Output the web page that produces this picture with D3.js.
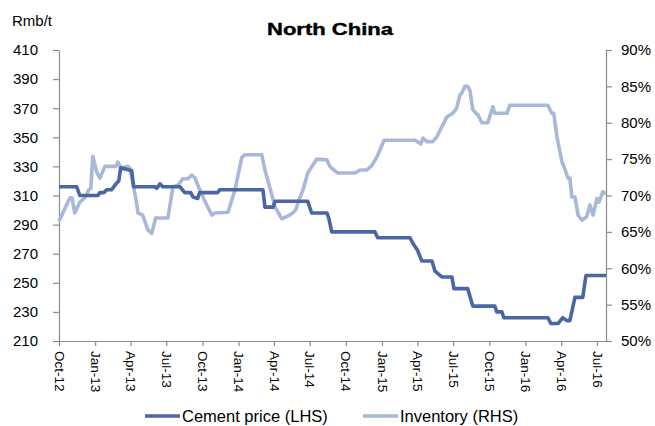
<!DOCTYPE html>
<html>
<head>
<meta charset="utf-8">
<script src="https://cdn.jsdelivr.net/npm/d3@7"></script>
<style>
  html, body { margin: 0; padding: 0; background: #fff; }
  svg { display: block; font-family: "Liberation Sans", Arial, Helvetica, sans-serif; }
</style>
</head>
<body>
<svg id="chart" width="655" height="426"></svg>
<script>
// Axis tick labels
const xTickLabels = ["Oct-12","Jan-13","Apr-13","Jul-13","Oct-13","Jan-14","Apr-14","Jul-14",
                     "Oct-14","Jan-15","Apr-15","Jul-15","Oct-15","Jan-16","Apr-16","Jul-16"];
const leftTicks  = [210, 230, 250, 270, 290, 310, 330, 350, 370, 390, 410];
const rightTicks = [50, 55, 60, 65, 70, 75, 80, 85, 90];

// Cement price, Rmb/t (left axis)
const cementDates = ["2012-10-01","2012-11-15","2012-11-23","2013-01-08","2013-01-13","2013-01-23",
  "2013-01-31","2013-02-12","2013-02-23","2013-03-02","2013-03-07","2013-04-04","2013-04-09",
  "2013-06-02","2013-06-07","2013-06-15","2013-06-22","2013-08-05","2013-08-17","2013-09-01",
  "2013-09-07","2013-09-19","2013-09-24","2013-11-09","2013-11-14","2014-03-04","2014-03-09",
  "2014-03-30","2014-04-04","2014-06-26","2014-07-06","2014-08-14","2014-08-19","2014-08-26",
  "2014-12-14","2014-12-21","2015-03-13","2015-03-21","2015-04-02","2015-04-12","2015-05-08",
  "2015-05-16","2015-06-02","2015-06-28","2015-07-03","2015-08-07","2015-08-20","2015-10-15",
  "2015-10-20","2015-11-02","2015-11-07","2016-02-27","2016-03-06","2016-03-24","2016-04-05",
  "2016-04-15","2016-04-23","2016-05-06","2016-05-26","2016-06-03","2016-07-24"];
const cementValues = [316,316,310,310,312,312,
  314,314,318,320,329,327,316,
  316,315,318,316,316,312,312,
  309,308,312,312,314,314,302,
  302,306,306,298,298,294,285,
  285,281,281,277,272,265,265,
  258,254,254,246,246,234,234,
  230,230,226,226,222,222,226,
  224,224,240,240,255,255];

// Inventory ratio, % (right axis)
const inventoryDates = ["2012-10-01","2012-10-29","2012-11-03","2012-11-10","2012-11-23","2012-12-06",
  "2012-12-16","2012-12-21","2012-12-26","2013-01-05","2013-01-13","2013-01-26","2013-02-23",
  "2013-02-28","2013-03-07","2013-03-25","2013-03-30","2013-04-07","2013-04-15","2013-04-20",
  "2013-05-02","2013-05-15","2013-05-25","2013-06-04","2013-07-05","2013-07-18","2013-07-31",
  "2013-08-12","2013-08-25","2013-09-04","2013-09-12","2013-09-24","2013-10-12","2013-10-25",
  "2013-11-02","2013-12-05","2013-12-23","2014-01-09","2014-01-17","2014-03-01","2014-03-09",
  "2014-03-22","2014-03-30","2014-04-04","2014-04-21","2014-05-11","2014-05-19","2014-05-27",
  "2014-06-01","2014-06-14","2014-06-26","2014-07-09","2014-07-19","2014-08-14","2014-08-21",
  "2014-09-03","2014-09-11","2014-10-24","2014-11-06","2014-11-23","2014-12-06","2014-12-19",
  "2014-12-27","2015-01-06","2015-03-26","2015-04-10","2015-04-15","2015-04-25","2015-05-10",
  "2015-05-21","2015-05-31","2015-06-15","2015-06-30","2015-07-10","2015-07-18","2015-07-23",
  "2015-07-31","2015-08-07","2015-08-13","2015-08-20","2015-08-28","2015-09-02","2015-09-12",
  "2015-09-27","2015-10-10","2015-10-15","2015-11-15","2015-11-22","2016-02-27","2016-03-08",
  "2016-03-13","2016-03-21","2016-04-03","2016-04-10","2016-04-18","2016-04-23","2016-04-28",
  "2016-05-06","2016-05-14","2016-05-24","2016-06-05","2016-06-13","2016-06-21","2016-07-01",
  "2016-07-06","2016-07-16","2016-07-24"];
const inventoryValues = [66.5,69.7,69.7,67.6,69.1,69.7,
  70.8,71.0,75.4,73.2,72.4,74.0,74.0,
  74.6,73.8,74.0,73.8,71.7,69.4,67.6,
  67.3,65.3,64.8,66.9,66.9,71.2,71.4,
  72.3,72.3,72.8,72.4,70.8,68.7,67.3,
  67.6,67.7,70.8,75.2,75.6,75.6,73.5,
  71.0,69.4,68.4,66.8,67.3,67.6,68.1,
  69.0,70.8,73.1,74.2,75.0,74.9,74.0,
  73.4,73.1,73.1,73.5,73.5,74.1,75.3,
  76.3,77.6,77.6,77.1,77.9,77.4,77.4,
  78.1,79.2,80.8,81.3,82.0,83.8,84.1,
  85.0,85.0,84.4,81.8,81.3,81.1,80.0,
  80.0,82.2,81.3,81.3,82.4,82.4,81.3,
  81.3,78.1,74.6,73.7,72.4,72.4,69.8,
  69.8,67.3,66.6,67.1,68.7,67.3,69.6,
  69.1,70.5,70.3];

const seriesNames = ["Cement price (LHS)", "Inventory (RHS)"];
const colors = { cement: "#4a66a5", inventory: "#a9b8d9" };

const parseDay = d3.timeParse("%Y-%m-%d");
const parseTick = d3.timeParse("%b-%y");

const svg = d3.select("#chart");
const plot = { left: 59, right: 606, top: 50, bottom: 341 };

const x = d3.scaleTime()
  .domain([parseDay("2012-10-01"), parseDay("2016-07-24")])
  .range([plot.left, plot.right]);
const yL = d3.scaleLinear().domain([210, 410]).range([plot.bottom, plot.top]);
const yR = d3.scaleLinear().domain([50, 90]).range([plot.bottom, plot.top]);

const axisColor = "#8c8c8c";

// Left axis
const gL = svg.append("g")
  .attr("transform", `translate(${plot.left},0)`)
  .call(d3.axisLeft(yL).tickValues(leftTicks).tickSize(6).tickSizeOuter(0).tickPadding(15));

// Right axis
const gR = svg.append("g")
  .attr("transform", `translate(${plot.right},0)`)
  .call(d3.axisRight(yR).tickValues(rightTicks).tickSize(6).tickSizeOuter(0).tickPadding(9)
    .tickFormat(d => d + "%"));

// Bottom axis with rotated date labels
const tickDates = xTickLabels.map(s => parseTick(s));
const gB = svg.append("g")
  .attr("transform", `translate(0,${plot.bottom})`)
  .call(d3.axisBottom(x).tickValues(tickDates).tickSize(5).tickSizeOuter(0)
    .tickFormat((d, i) => xTickLabels[i]));

gB.selectAll(".tick text")
  .attr("transform", "rotate(90)")
  .attr("x", 10)
  .attr("y", 0)
  .attr("dy", "0.36em")
  .attr("text-anchor", "start")
  .style("font-size", "13.5px");

[gL, gR, gB].forEach(g => {
  g.select(".domain").attr("stroke", axisColor).attr("stroke-width", 1.2);
  g.selectAll(".tick line").attr("stroke", axisColor).attr("stroke-width", 1.2);
  g.selectAll(".tick text").attr("fill", "#000");
});
gL.selectAll(".tick text").style("font-size", "15px");
gR.selectAll(".tick text").style("font-size", "15px");

// Series lines
const cementData = cementDates.map((d, i) => ({ date: parseDay(d), value: cementValues[i] }));
const inventoryData = inventoryDates.map((d, i) => ({ date: parseDay(d), value: inventoryValues[i] }));

svg.append("path")
  .datum(inventoryData)
  .attr("fill", "none")
  .attr("stroke", colors.inventory)
  .attr("stroke-width", 3.6)
  .attr("stroke-linejoin", "round")
  .attr("d", d3.line().x(d => x(d.date)).y(d => yR(d.value)));

svg.append("path")
  .datum(cementData)
  .attr("fill", "none")
  .attr("stroke", colors.cement)
  .attr("stroke-width", 3.6)
  .attr("stroke-linejoin", "round")
  .attr("d", d3.line().x(d => x(d.date)).y(d => yL(d.value)));

// Title and unit label
svg.append("text")
  .attr("x", 330).attr("y", 35)
  .attr("text-anchor", "middle")
  .attr("textLength", 126)
  .attr("lengthAdjust", "spacingAndGlyphs")
  .style("font-size", "16.5px")
  .style("font-weight", "bold")
  .style("stroke", "#000").style("stroke-width", 0.4)
  .text("North China");

svg.append("text")
  .attr("x", 12).attr("y", 26)
  .style("font-size", "15px")
  .text("Rmb/t");

// Legend
const legend = [
  { name: seriesNames[0], color: colors.cement, x: 145 },
  { name: seriesNames[1], color: colors.inventory, x: 363 }
];
const lg = svg.append("g").selectAll("g").data(legend).join("g")
  .attr("transform", d => `translate(${d.x},416)`);
lg.append("line").attr("x1", 0).attr("x2", 35).attr("y1", 0).attr("y2", 0)
  .attr("stroke", d => d.color).attr("stroke-width", 3.6);
lg.append("text").attr("x", 37).attr("y", 6)
  .style("font-size", "16.5px")
  .text(d => d.name);
</script>
</body>
</html>
